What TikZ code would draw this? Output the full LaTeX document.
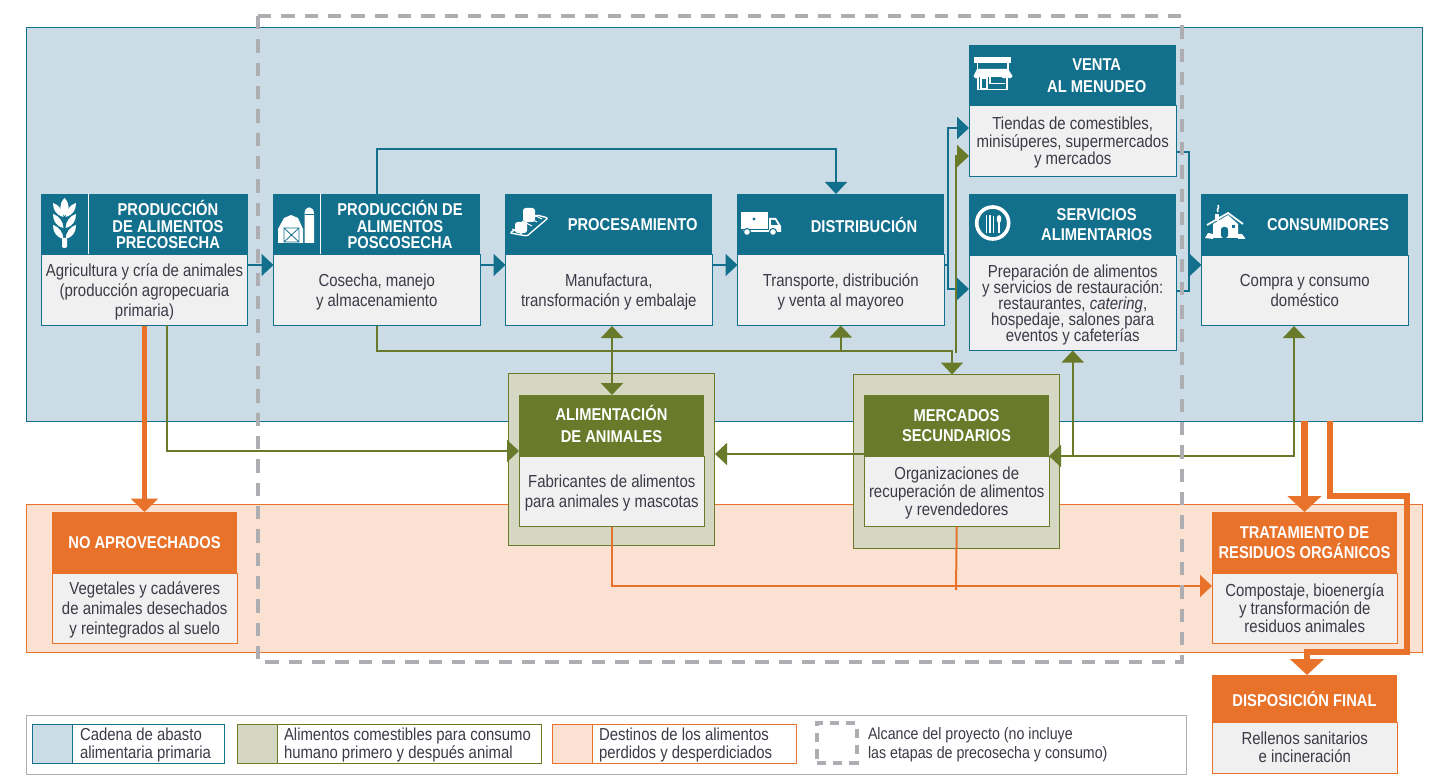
\documentclass[tikz,border=0pt]{standalone}
\usepackage{fontspec}
\setmainfont[FakeStretch=0.86]{Liberation Sans}
\usetikzlibrary{arrows.meta}

\definecolor{tealhead}{HTML}{13708C}
\definecolor{oliveline}{HTML}{697A2B}
\definecolor{orangeline}{HTML}{E8722A}
\definecolor{chainbg}{HTML}{CCDCE6}
\definecolor{ediblebg}{HTML}{D5D7C2}
\definecolor{lostbg}{HTML}{FBE1D2}
\definecolor{bodygray}{HTML}{F0F0F0}
\definecolor{scopegray}{HTML}{AEAEB2}
\definecolor{inkgray}{HTML}{3C3A46}

\tikzset{
  wd/.style={minimum width=#1*0.75pt},
  ht/.style={minimum height=#1*0.75pt},
  box/.style={anchor=north west,rectangle,inner sep=0pt,outer sep=0pt},
  hdr/.style={box,text=white,align=center,font=\fontsize{12.85}{#1}\selectfont\bfseries\lineskiplimit-5pt},
  hdr/.default=12.4,
  title/.style={inner sep=0pt,outer sep=0pt,text=white,align=center,font=\fontsize{12.85}{#1}\selectfont\bfseries\lineskiplimit-5pt},
  title/.default=12.4,
  bdy/.style={box,draw=#1,line width=0.7pt,fill=bodygray,text=inkgray,align=center,text depth=-1.2pt},
  band/.style={box,draw=#1,line width=0.7pt},
  lead/.style={font=\fontsize{13.05}{#1}\selectfont\lineskiplimit-5pt},
  legtext/.style={anchor=west,inner sep=0pt,outer sep=0pt,text=inkgray,align=left,font=\fontsize{13}{14.2}\selectfont\lineskiplimit-5pt},
  bluearw/.style={draw=tealhead,line width=1.5pt,-{Triangle[length=9pt,width=16.5pt]}},
  blueline/.style={draw=tealhead,line width=1.5pt},
  greenarw/.style={draw=oliveline,line width=1.5pt,-{Triangle[length=9pt,width=16.5pt]}},
  greenboth/.style={draw=oliveline,line width=1.5pt,{Triangle[length=9pt,width=16.5pt]}-{Triangle[length=9pt,width=16.5pt]}},
  orgline/.style={draw=orangeline,line width=1.5pt},
  orgarw/.style={draw=orangeline,line width=1.5pt,-{Triangle[length=9pt,width=16.5pt]}},
  orgmid/.style={draw=orangeline,line width=3.75pt,-{Triangle[length=10pt,width=20pt]}},
  orgwide/.style={draw=orangeline,line width=4.5pt,-{Triangle[length=12pt,width=25pt]}},
  scopeline/.style={draw=scopegray,line width=3pt,dash pattern=on 10pt off 7.5pt},
  icon/.style={fill=white,draw=none},
  iconline/.style={draw=white,line width=1pt}
}

\begin{document}
\begin{tikzpicture}[x=0.75pt,y=-0.75pt]
\useasboundingbox (0,0) rectangle (1442,784);

% backgrounds
\node (chain) at (26.5,27.5) [band=tealhead,fill=chainbg,wd=1396,ht=394] {};
\node (lost) at (26.5,504.5) [band=orangeline,fill=lostbg,wd=1396,ht=148] {};

% legend
\node (legend) at (26,715.5) [box,draw=scopegray,line width=0.7pt,fill=white,wd=1160,ht=59] {};
\node (legblue) at (32,724.5) [band=tealhead,fill=white,wd=192,ht=38.5] {};
\node (legbluesw) at (32,724.5) [band=tealhead,fill=chainbg,wd=40,ht=38.5] {};
\node (legbluetx) at (80,745) [legtext] {Cadena de abasto\\alimentaria primaria};
\node (leggreen) at (237,724.5) [band=oliveline,fill=white,wd=304,ht=38.5] {};
\node (leggreensw) at (237,724.5) [band=oliveline,fill=ediblebg,wd=40,ht=38.5] {};
\node (leggreentx) at (284,745) [legtext] {Alimentos comestibles para consumo\\humano primero y después animal};
\node (legorg) at (552,724.5) [band=orangeline,fill=white,wd=244,ht=38.5] {};
\node (legorgsw) at (552,724.5) [band=orangeline,fill=lostbg,wd=40,ht=38.5] {};
\node (legorgtx) at (599,745) [legtext] {Destinos de los alimentos\\perdidos y desperdiciados};
\node (legscope) at (816.5,723) [box,scopeline,dash pattern=on 7pt off 5.2pt,wd=40,ht=40] {};
\node (legscopetx) at (868,745) [legtext,font=\fontsize{12.4}{14.2}\selectfont\lineskiplimit-5pt] {Alcance del proyecto (no incluye\\las etapas de precosecha y consumo)};

% green blocks behind
\node (alimout) at (508.5,373) [band=oliveline,fill=ediblebg,wd=206,ht=172.5] {};
\node (mercout) at (853.5,374.5) [band=oliveline,fill=ediblebg,wd=206,ht=174] {};

% supply chain
\node (prehdr) at (41,194) [hdr,fill=tealhead,wd=206.5,ht=60.5] {};
\node (prebdy) at (41.5,254.5) [bdy=tealhead,lead=15,wd=206,ht=71] {Agricultura y cría de animales\\(producción agropecuaria\\primaria)};
\node (pretitle) at (168,224.5) [title] {PRODUCCIÓN\\DE ALIMENTOS\\PRECOSECHA};
\node (poshdr) at (273,194) [hdr,fill=tealhead,wd=207,ht=60.5] {};
\node (posbdy) at (273.5,254.5) [bdy=tealhead,lead=15,wd=206.5,ht=71] {Cosecha, manejo\\y almacenamiento};
\node (postitle) at (400,224.5) [title] {PRODUCCIÓN DE\\ALIMENTOS\\POSCOSECHA};
\node (prohdr) at (505,194) [hdr,fill=tealhead,wd=207,ht=60.5] {};
\node (probdy) at (505.5,254.5) [bdy=tealhead,lead=15,wd=206.5,ht=71] {Manufactura,\\transformación y embalaje};
\node (protitle) at (632.7,224.5) [title] {PROCESAMIENTO};
\node (dishdr) at (737,194) [hdr,fill=tealhead,wd=207,ht=60.5] {};
\node (disbdy) at (737.5,254.5) [bdy=tealhead,lead=15,wd=206.5,ht=71] {Transporte, distribución\\y venta al mayoreo};
\node (distitle) at (864,224.5) [title] {DISTRIBUCIÓN};
\node (venhdr) at (969,45) [hdr,fill=tealhead,wd=207,ht=60] {};
\node (venbdy) at (969.5,105) [bdy=tealhead,lead=13.2,wd=206.5,ht=71.5] {Tiendas de comestibles,\\minisúperes, supermercados\\y mercados};
\node (ventitle) at (1096.7,76) [title=16.5] {VENTA\\AL MENUDEO};
\node (serhdr) at (969,194) [hdr,fill=tealhead,wd=207,ht=61] {};
\node (serbdy) at (969.5,255) [bdy=tealhead,lead=12,wd=206.5,ht=95.5] {Preparación de alimentos\\y servicios de restauración:\\restaurantes, \textit{catering},\\hospedaje, salones para\\eventos y cafeterías};
\node (sertitle) at (1096.7,224.5) [title=15] {SERVICIOS\\ALIMENTARIOS};
\node (conhdr) at (1201,194) [hdr,fill=tealhead,wd=207,ht=61] {};
\node (conbdy) at (1201.5,255) [bdy=tealhead,lead=15,wd=206.5,ht=70.5] {Compra y consumo\\doméstico};
\node (contitle) at (1328,224.5) [title] {CONSUMIDORES};

% secondary uses
\node (alimhdr) at (519,395) [hdr=16.5,fill=oliveline,text depth=3pt,wd=185,ht=61] {ALIMENTACIÓN\\DE ANIMALES};
\node (alimbdy) at (519.5,456) [bdy=oliveline,lead=15,wd=184.5,ht=70.5] {Fabricantes de alimentos\\para animales y mascotas};
\node (merchdr) at (864,395) [hdr=15,fill=oliveline,wd=185,ht=61] {MERCADOS\\SECUNDARIOS};
\node (mercbdy) at (864.5,456) [bdy=oliveline,lead=13.2,wd=184.5,ht=70.5] {Organizaciones de\\recuperación de alimentos\\y revendedores};

% losses
\node (noaphdr) at (52,512) [hdr,fill=orangeline,wd=185,ht=61] {NO APROVECHADOS};
\node (noapbdy) at (52.5,573) [bdy=orangeline,lead=15,wd=184.5,ht=70] {Vegetales y cadáveres\\de animales desechados\\y reintegrados al suelo};
\node (trathdr) at (1212,512) [hdr=15,fill=orangeline,wd=185,ht=61] {TRATAMIENTO DE\\RESIDUOS ORGÁNICOS};
\node (tratbdy) at (1212.5,573) [bdy=orangeline,lead=13.2,wd=184.5,ht=70] {Compostaje, bioenergía\\y transformación de\\residuos animales};
\node (disphdr) at (1212,675) [hdr,fill=orangeline,wd=185,ht=47] {DISPOSICIÓN FINAL};
\node (dispbdy) at (1212.5,722) [bdy=orangeline,text depth=1pt,lead=13.5,wd=184.5,ht=51.5] {Rellenos sanitarios\\e incineración};

% header rules
\draw[white,line width=0.8pt] (88.5,194) -- (88.5,254);
\draw[white,line width=0.8pt] (320.5,194) -- (320.5,254);

% icons: wheat
\fill[icon] (64.5,198) .. controls (59,204) and (59,210) .. (64.5,216) .. controls (70,210) and (70,204) .. (64.5,198) -- cycle;
\foreach \yy in {0,11,22} {
  \fill[icon] (63.5,217+\yy) .. controls (56,215+\yy) and (53,210+\yy) .. (53,203+\yy) .. controls (59,205+\yy) and (63,210+\yy) .. (63.5,217+\yy) -- cycle;
  \fill[icon] (65.5,217+\yy) .. controls (73,215+\yy) and (76,210+\yy) .. (76,203+\yy) .. controls (70,205+\yy) and (66,210+\yy) .. (65.5,217+\yy) -- cycle;
}
\fill[icon,rounded corners=1pt] (62,238) rectangle (67,248);
% icons: barn
\fill[icon] (278,229) -- (284,218) -- (291,215) -- (298,218) -- (303,229) -- (303,243) -- (278,243) -- cycle;
\draw[tealhead,line width=0.6pt] (284,228) rectangle (299,242) (284,228) -- (299,242) (299,228) -- (284,242);
\fill[icon] (304.5,243) -- (304.5,214) .. controls (304.5,205) and (314,205) .. (314,214) -- (314,243) -- cycle;
\draw[tealhead,line width=0.5pt] (304.5,214) -- (314,214);
% icons: conveyor
\draw[iconline,rounded corners=1pt] (510,233) -- (537,215) -- (548,218) -- (527,236) -- cycle;
\foreach \xx/\yy in {522/234,527/230,532/226,537/222,542/219} \draw[iconline,line width=0.7pt] (\xx,\yy) -- (\xx-10,\yy-5);
\fill[icon,rounded corners=2pt] (523,208) rectangle (535,222);
\fill[icon,rounded corners=2pt] (515,222) rectangle (527,233);
% icons: truck
\fill[icon] (741,212) rectangle (768,229);
\fill[icon] (769,218) -- (776,218) -- (781,226) -- (781,232) -- (769,232) -- cycle;
\fill[icon] (743,230) rectangle (769,232);
\fill[tealhead] (754,219) circle [radius=1.6];
\fill[tealhead] (771,220) -- (775,220) -- (778,225) -- (771,225) -- cycle;
\filldraw[fill=white,draw=tealhead,line width=0.8pt] (747,232) circle [radius=3.5];
\filldraw[fill=white,draw=tealhead,line width=0.8pt] (773,232) circle [radius=3.5];
% icons: store
\fill[icon] (974,57) rectangle (1011,63);
\draw[iconline,line width=1.2pt] (977.5,63) -- (977.5,70) (1008,63) -- (1008,70);
\fill[icon] (977,69) -- (1008,69) -- (1012.5,76) .. controls (1011,79) and (1009,79) .. (1007,77) .. controls (1005,79) and (1003,79) .. (1001,77) -- (985,77) .. controls (983,79) and (981,79) .. (979,77) .. controls (977,79) and (975,79) .. (973.5,76) -- cycle;
\draw[iconline] (978,77) -- (978,89.5) -- (1007,89.5) -- (1007,77);
\draw[iconline,line width=0.8pt] (981,78) rectangle (987,89);
\draw[iconline,line width=0.8pt] (990,77) -- (990,83.5) -- (1005,83.5);
% icons: plate
\draw[white,line width=2.7pt] (992.7,223) circle [radius=16];
\draw[iconline,line width=1.1pt] (986.5,215) -- (986.5,233) (990,215) -- (990,233);
\draw[iconline,line width=1.4pt] (993.5,216) -- (993.5,233);
\fill[icon] (999,219) ellipse [x radius=2.3,y radius=4];
\draw[iconline,line width=1.2pt] (999,219) -- (999,233);
% icons: house
\fill[icon] (1213,224) -- (1228,215) -- (1238,224) -- (1238,238) -- (1213,238) -- cycle;
\draw[iconline,line width=1.3pt] (1207,225) -- (1228,213) -- (1243,224);
\fill[tealhead,rounded corners=2pt] (1221,227) -- (1228,227) -- (1228,238) -- (1221,238) -- cycle;
\fill[tealhead] (1232,225) rectangle (1235,228);
\fill[icon] (1205,238) -- (1208,233) -- (1213,234) -- (1213,239) -- cycle;
\fill[icon] (1238,234) -- (1242,234) -- (1245,238) -- (1245,239) -- (1238,239) -- cycle;
\fill[icon] (1215,214) rectangle (1219,221);
\draw[iconline,line width=1.1pt] (1218,212) .. controls (1216,209) and (1220,208) .. (1218,205);

% connector ends
\coordinate (rowflow) at (0,265);
\coordinate (rowtop) at (0,149);
\coordinate (rowgreen) at (0,351);
\coordinate (baseblue) at (0,421);
\coordinate (distop) at (836,194);
\coordinate (splitb) at (948,265);
\coordinate (venin) at (969,128);
\coordinate (serin) at (969,289);
\coordinate (venout) at (1176,152);
\coordinate (serout) at (1176,291);
\coordinate (joinb) at (1189,265);
\coordinate (mercin) at (952,374.5);
\coordinate (grnrise) at (956,353);
\coordinate (vengrn) at (969,156);
\coordinate (proin) at (612,326);
\coordinate (consin) at (1294,326);
\coordinate (mercleft) at (864,454);
\coordinate (alimright) at (715,454);
\coordinate (pregrn) at (167,325);
\coordinate (alimleft) at (519,451);
\coordinate (tratin) at (1212,586);
\coordinate (mercdown) at (956,590);
\coordinate (orgstart) at (1330,421);
\coordinate (railne) at (1407,496);
\coordinate (railse) at (1407,652);
\coordinate (dispin) at (1307,675);

% blue flow
\draw[bluearw] (prebdy.east |- rowflow) -- (posbdy.west |- rowflow);
\draw[bluearw] (posbdy.east |- rowflow) -- (probdy.west |- rowflow);
\draw[bluearw] (probdy.east |- rowflow) -- (disbdy.west |- rowflow);
\draw[bluearw] (poshdr.north) -- (poshdr.north |- rowtop) -| (distop);
\draw[blueline] (disbdy.east |- rowflow) -- (splitb);
\draw[bluearw] (splitb) |- (venin);
\draw[bluearw] (splitb) |- (serin);
\draw[blueline] (venout) -| (joinb) |- (serout);
\draw[bluearw] (joinb) -- (conbdy.west |- joinb);

% green flow
\draw[greenarw] (posbdy.south) -- (posbdy.south |- rowgreen) -| (mercin);
\draw[greenarw] (disbdy.south |- rowgreen) -- (disbdy.south);
\draw[greenarw] (grnrise) |- (vengrn);
\draw[greenboth] (proin) -- (alimhdr.north -| proin);
\draw[greenboth] (consin) |- (mercbdy.north east);
\draw[greenarw] (serbdy.south |- mercbdy.north east) -- (serbdy.south);
\draw[greenarw] (mercleft) -- (alimright);
\draw[greenarw] (pregrn) |- (alimleft);

% orange flow
\draw[orgmid] (prebdy.south) -- (noaphdr.north);
\draw[orgarw] (alimbdy.south) |- (tratin);
\draw[orgline] (mercbdy.south) -- (mercdown);
\draw[orgwide,line width=5pt] (trathdr.north |- baseblue) -- (trathdr.north);
\draw[orgwide] (orgstart) |- (railne) -- (railse) -| (dispin);

% project scope
\draw[scopeline] (258,16) rectangle (1182,662);
\end{tikzpicture}
\end{document}
